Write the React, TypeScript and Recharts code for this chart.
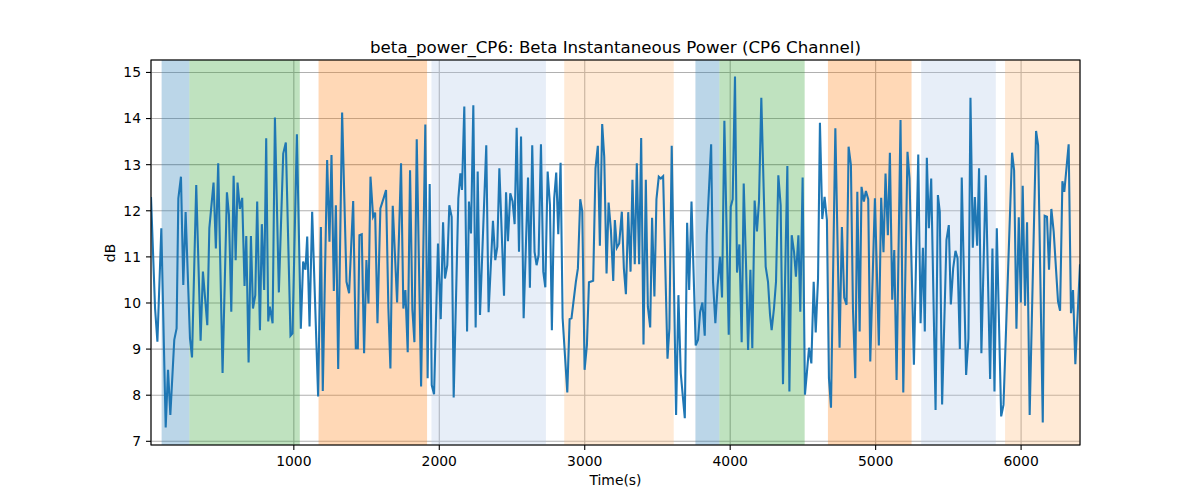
import React from 'react';
import { LineChart, Line, XAxis, YAxis, CartesianGrid, ReferenceArea } from 'recharts';

// sample times (s)
const times = [
  18, 46, 62, 89, 119, 135, 151, 178, 194, 206, 224, 240, 256, 286, 300, 329, 359, 375, 405, 419,
  448, 464, 480, 510, 540, 554, 570, 586, 600, 613, 629, 645, 661, 673, 689, 705, 719, 735, 748, 767,
  780, 796, 810, 824, 835, 854, 870, 897, 927, 945, 977, 991, 1021, 1048, 1064, 1080,
  1092, 1108, 1126, 1167, 1186, 1199, 1229, 1245, 1259, 1275, 1289, 1305, 1332, 1362, 1380, 1408, 1426, 1440, 1451, 1467,
  1483, 1499, 1513, 1527, 1545, 1559, 1575, 1595, 1618, 1634, 1650, 1664, 1680, 1710, 1737, 1753, 1767, 1783, 1799, 1815,
  1829, 1845, 1875, 1904, 1920, 1934, 1948, 1964, 1991, 2010, 2026, 2039, 2055, 2069, 2085, 2099, 2131, 2145,
  2156, 2172, 2191, 2204, 2218, 2234, 2250, 2264, 2280, 2323, 2339, 2369, 2385, 2399, 2413, 2445, 2459, 2472, 2488, 2504,
  2518, 2532, 2548, 2562, 2580, 2610, 2623, 2639, 2655, 2669, 2683, 2699, 2715, 2729, 2745, 2761, 2774, 2790, 2804, 2818,
  2834, 2848, 2880, 2896, 2909, 2939, 2953, 2969, 2983, 2999, 3015, 3029, 3058, 3074, 3090, 3104, 3120, 3134, 3150, 3164,
  3180, 3196,
  3207, 3221, 3237, 3255, 3269, 3283, 3299, 3315, 3328, 3344, 3358, 3374, 3388, 3404, 3420, 3434, 3450, 3463, 3479, 3493,
  3509, 3523, 3539, 3569, 3582, 3598, 3628, 3644, 3660, 3688, 3704, 3718, 3734, 3763, 3779, 3793, 3809, 3825, 3839, 3869,
  3882, 3898, 3914, 3930, 3944, 3960, 3990, 4004, 4017, 4033, 4047, 4063, 4079, 4093, 4109, 4123, 4139, 4152, 4168, 4184,
  4198, 4214, 4244, 4260, 4274,
  4285, 4301, 4315, 4331, 4347, 4363, 4393, 4407, 4423, 4439, 4452, 4469, 4482, 4498, 4514, 4528, 4542, 4558, 4574, 4588,
  4604, 4617, 4633, 4649, 4665, 4679, 4693, 4723, 4752, 4768, 4784, 4800, 4814, 4830, 4844, 4860, 4874, 4890, 4903, 4919,
  4933, 4949, 4963, 4995, 5022, 5038, 5054, 5068, 5084, 5098, 5114, 5128, 5144, 5171, 5190, 5219, 5233, 5263, 5293, 5309,
  5325, 5338,
  5352, 5366, 5382, 5412, 5428, 5441, 5457, 5487, 5503, 5517, 5533, 5549, 5563, 5579, 5592, 5622, 5638, 5652, 5668, 5682,
  5698, 5711, 5727, 5757, 5787, 5803, 5817, 5833, 5863, 5879, 5938, 5952, 5968, 5984, 5998, 6011, 6027, 6041, 6059, 6103,
  6117, 6149, 6162, 6178, 6192, 6208, 6224, 6254, 6268, 6284, 6297, 6313, 6327, 6343, 6357, 6373, 6405,
];

// beta power (dB) at each sample
const power = [
  12.30, 9.88, 9.16, 11.62, 7.30, 8.55, 7.57, 9.20, 9.45, 12.27, 12.74, 10.39, 11.97, 9.23, 8.82, 12.56, 9.18, 10.68, 9.52, 11.62,
  12.61, 11.18, 13.03, 8.48, 12.40, 11.91, 9.81, 12.76, 10.93, 12.61, 12.04, 12.28, 10.37, 11.45, 8.71, 11.45, 9.88, 10.17, 12.20, 9.41,
  11.71, 10.28, 13.57, 9.60, 9.92, 9.56, 14.02, 10.23, 13.24, 13.48, 9.29, 9.34, 13.66, 9.44, 10.90, 10.72,
  11.44, 9.49, 11.98, 7.97, 11.65, 8.09, 13.10, 11.33, 13.21, 10.26, 12.12, 8.57, 14.13, 10.46, 10.21, 12.21, 9.02, 9.02, 11.47, 11.49,
  8.91, 10.93, 9.99, 12.74, 11.87, 11.96, 9.56, 12.05, 12.28, 12.45, 9.88, 8.58, 12.11, 10.01, 13.03, 9.88, 10.28, 8.93, 12.88, 9.86,
  9.15, 13.55, 8.19, 13.87, 8.37, 12.58, 8.22, 8.02, 11.29, 9.65, 11.75, 10.53, 10.82, 12.12, 11.87, 7.95, 12.27, 12.81,
  12.45, 14.26, 9.38, 12.20, 11.51, 14.29, 9.47, 12.85, 9.74, 13.42, 9.80, 11.78, 10.93, 11.22, 12.92, 10.16, 12.40, 11.34, 12.38, 12.20,
  11.71, 13.80, 11.11, 13.61, 9.67, 12.72, 10.33, 13.42, 11.11, 10.82, 11.04, 13.44, 10.68, 10.34, 12.85, 12.12, 9.41, 12.27, 12.83, 11.49,
  13.04, 9.67, 8.06, 9.65, 9.67, 10.46, 10.75, 12.25, 11.99, 8.55, 9.09, 10.45, 10.48, 12.92, 13.41, 11.24, 13.88, 13.17, 10.64, 12.18,
  11.58, 10.48,
  11.80, 11.20, 11.29, 11.98, 10.75, 10.19, 11.97, 10.68, 12.67, 10.84, 13.03, 10.84, 13.58, 9.10, 12.67, 9.92, 9.47, 11.85, 10.14, 12.25,
  12.74, 12.70, 12.75, 8.79, 9.45, 13.41, 7.57, 10.17, 8.48, 7.50, 11.74, 10.28, 12.20, 9.08, 9.20, 9.80, 10.01, 9.29, 11.47, 13.44,
  10.46, 9.56, 10.39, 11.00, 10.12, 13.95, 9.31, 12.09, 12.25, 14.91, 10.66, 11.27, 9.15, 12.59, 10.82, 8.98, 10.72, 9.02, 12.22, 11.55,
  12.20, 14.45, 10.79, 10.46, 9.74,
  9.41, 9.88, 10.46, 12.77, 12.12, 8.24, 12.97, 8.08, 11.47, 11.11, 10.57, 11.47, 9.81, 12.72, 8.01, 8.51, 9.03, 8.69, 10.46, 9.36,
  10.53, 13.91, 11.82, 12.30, 11.80, 8.37, 7.73, 13.79, 9.03, 11.65, 10.12, 9.96, 13.39, 12.99, 9.88, 8.37, 12.41, 9.38, 12.52, 12.20,
  12.43, 12.25, 8.73, 12.27, 9.08, 12.28, 11.10, 12.81, 11.47, 13.26, 10.07, 11.15, 8.33, 13.97, 8.06, 13.28, 12.70, 8.66, 13.22, 9.56,
  11.20, 9.38,
  13.15, 11.62, 12.70, 7.68, 12.34, 11.98, 7.80, 11.37, 11.69, 9.97, 10.75, 11.13, 10.97, 9.00, 12.72, 8.44, 9.23, 14.45, 11.20, 12.30,
  11.24, 12.92, 8.91, 12.77, 8.35, 11.18, 8.08, 11.62, 7.54, 7.79, 13.26, 12.88, 9.44, 11.86, 10.01, 12.54, 9.94, 11.75, 7.57, 13.73,
  13.42, 7.41, 11.89, 11.87, 10.72, 12.04, 11.55, 10.03, 9.83, 12.64, 12.41, 12.96, 13.44, 9.78, 10.28, 8.67, 10.84,
];

// shaded phases
const spanStart = [91, 282, 1170, 1946, 2859, 3761, 3926, 4672, 5313, 5890];
const spanEnd = [282, 1041, 1916, 2733, 3612, 3926, 4512, 5247, 5826, 6405];
const spanColor = ['#1f77b4', '#2ca02c', '#ff7f0e', '#aec7e8', '#ffbb78', '#1f77b4', '#2ca02c', '#ff7f0e', '#aec7e8', '#ffbb78'];

const xTicks = [1000, 2000, 3000, 4000, 5000, 6000];
const yTicks = [7, 8, 9, 10, 11, 12, 13, 14, 15];

const data = times.map((t, i) => ({ t, power: power[i] }));

const font = 'DejaVu Sans, sans-serif';
const tickStyle = { fill: '#000', fontSize: 13.9, fontFamily: font };

export default function App() {
  return (
    <div style={{ position: 'absolute', left: 0, top: 0, width: 1200, height: 500, background: '#fff' }}>
      <LineChart width={1200} height={500} data={data} margin={{ top: 60, right: 120, bottom: 0, left: 0 }}>
        {spanStart.map((s, i) => (
          <ReferenceArea
            key={i}
            x1={s}
            x2={spanEnd[i]}
            fill={spanColor[i]}
            fillOpacity={0.3}
            stroke="none"
            ifOverflow="hidden"
          />
        ))}
        <CartesianGrid stroke="#b0b0b0" strokeWidth={1.1} />
        <XAxis
          type="number"
          dataKey="t"
          domain={[18, 6405]}
          ticks={xTicks}
          allowDataOverflow
          height={55}
          tick={tickStyle}
          tickLine={{ stroke: '#000', strokeWidth: 1.1 }}
          tickSize={5}
          tickMargin={6}
          axisLine={false}
        />
        <YAxis
          type="number"
          domain={[6.92, 15.27]}
          ticks={yTicks}
          allowDataOverflow
          width={151}
          tick={tickStyle}
          tickLine={{ stroke: '#000', strokeWidth: 1.1 }}
          tickSize={5}
          tickMargin={5}
          axisLine={false}
        />
        <Line
          type="linear"
          dataKey="power"
          stroke="#1f77b4"
          strokeWidth={2.08}
          dot={false}
          activeDot={false}
          isAnimationActive={false}
        />
      </LineChart>
      <svg width={1200} height={500} style={{ position: 'absolute', left: 0, top: 0, pointerEvents: 'none' }}>
        <rect x={151} y={60} width={929} height={385} fill="none" stroke="#000" strokeWidth={1.1} />
        <text x={615.5} y={52.7} textAnchor="middle" fontSize={16.67} fontFamily={font} fill="#000">
          beta_power_CP6: Beta Instantaneous Power (CP6 Channel)
        </text>
        <text x={615.5} y={485} textAnchor="middle" fontSize={13.9} fontFamily={font} fill="#000">
          Time(s)
        </text>
        <text x={115} y={253} textAnchor="middle" fontSize={13.9} fontFamily={font} fill="#000" transform="rotate(-90 115 253)">
          dB
        </text>
      </svg>
    </div>
  );
}
